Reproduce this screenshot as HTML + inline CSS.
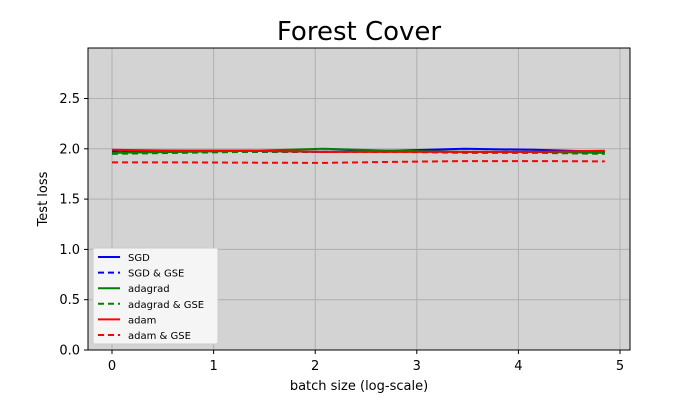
<!DOCTYPE html>
<html><head><meta charset="utf-8"><style>
body{margin:0;background:#fff;font-family:"Liberation Sans","DejaVu Sans",sans-serif;}
</style></head><body>
<svg id="chart" width="700" height="400" xmlns="http://www.w3.org/2000/svg" font-family="DejaVu Sans, Liberation Sans, sans-serif">
<rect width="700" height="400" fill="#fff"/>
<text x="359" y="40" font-size="26" text-anchor="middle">Forest Cover</text>
<rect x="88" y="48" width="542" height="302" fill="#d3d3d3"/>
<g id="grid"></g><g id="series"></g><g id="axes"></g>
<rect x="88" y="48" width="542" height="302" fill="none" stroke="#000" stroke-width="1"/>
<text x="359" y="390" font-size="13" text-anchor="middle">batch size (log-scale)</text>
<text x="47" y="199" font-size="13" text-anchor="middle" transform="rotate(-90 47 199)">Test loss</text>
<g id="legend"></g>
</svg>
<script>
const xVals=[0,0.69,1.39,2.08,2.77,3.47,4.16,4.85];
const sgd=[1.98,1.98,1.98,1.97,1.98,2.0,1.99,1.97];
const sgdGse=[1.97,1.97,1.97,1.97,1.97,1.97,1.97,1.96];
const adagrad=[1.96,1.97,1.98,2.0,1.98,1.97,1.97,1.96];
const adagradGse=[1.95,1.96,1.97,1.97,1.97,1.96,1.96,1.95];
const adam=[1.99,1.98,1.98,1.97,1.97,1.97,1.97,1.98];
const adamGse=[1.865,1.865,1.862,1.86,1.87,1.878,1.878,1.875];
const xTicks=[0,1,2,3,4,5];
const yTicks=[0,0.5,1.0,1.5,2.0,2.5];
const NS="http://www.w3.org/2000/svg";
const X=v=>112+v*101.6, Y=v=>350-v*100.6;
function mk(t,a,p){const e=document.createElementNS(NS,t);for(const k in a)e.setAttribute(k,a[k]);p.appendChild(e);return e;}
const grid=document.getElementById('grid'),axes=document.getElementById('axes'),ser=document.getElementById('series'),leg=document.getElementById('legend');
xTicks.forEach(t=>{const x=X(t);
 const g=mk('line',{x1:x,x2:x,y1:48,y2:350,stroke:'#b0b0b0','stroke-width':1},grid);
 
 mk('line',{x1:x,x2:x,y1:350,y2:354,stroke:'#000'},axes);
 const tx=mk('text',{x:x,y:370,'font-size':13,'text-anchor':'middle'},axes);tx.textContent=t;
 });
yTicks.forEach(t=>{const y=Y(t);
 const g=mk('line',{x1:88,x2:630,y1:y,y2:y,stroke:'#b0b0b0','stroke-width':1},grid);
 
 mk('line',{x1:84,x2:88,y1:y,y2:y,stroke:'#000'},axes);
 const tx=mk('text',{x:80,y:y+4.5,'font-size':13,'text-anchor':'end'},axes);tx.textContent=t.toFixed(1);
 });
const series=[["SGD",sgd,"blue",false],["SGD & GSE",sgdGse,"blue",true],["adagrad",adagrad,"green",false],["adagrad & GSE",adagradGse,"green",true],["adam",adam,"red",false],["adam & GSE",adamGse,"red",true]];
series.forEach(([n,d,c,dash])=>{
 const p=mk('polyline',{points:d.map((v,i)=>X(xVals[i])+','+Y(v)).join(' '),fill:'none',stroke:c,'stroke-width':2,'stroke-dasharray':dash?'6,4':'none'},ser);
 });
mk('rect',{x:93,y:248,width:125,height:96,fill:'#f5f5f5',stroke:'#ccc',rx:2},leg);
series.forEach(([n,d,c,dash],i)=>{const y=257+i*15.6;
 mk('line',{x1:98,x2:120,y1:y,y2:y,stroke:c,'stroke-width':2,'stroke-dasharray':dash?'6,4':'none'},leg);
 const t=mk('text',{x:128,y:y+4,'font-size':10},leg);t.textContent=n;
 });
</script>
</body></html>
